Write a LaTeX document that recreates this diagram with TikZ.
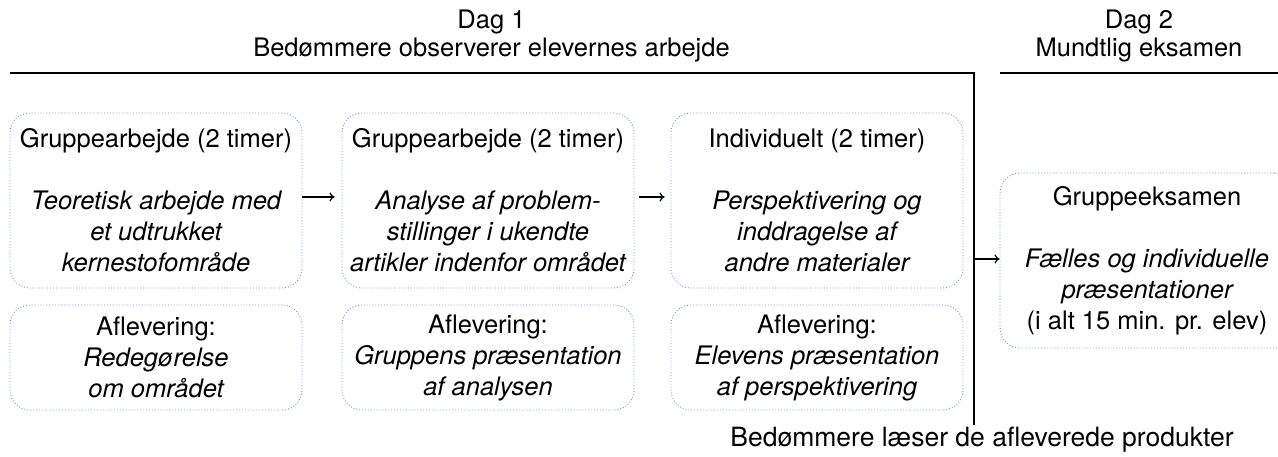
\documentclass[tikz,border=0pt]{standalone}
\usepackage{fontspec}
\setmainfont{TeX Gyre Heros}
\usetikzlibrary{arrows.meta}
\definecolor{boxblue}{HTML}{6F95C8}
\tikzset{
  stepbox/.style={draw=boxblue, line width=0.9pt, dotted, rounded corners=20pt,
    minimum width=292pt, align=center, inner sep=0pt,
    font=\fontsize{25.5}{31}\selectfont},
  topbox/.style={stepbox, minimum height=175pt},
  lowbox/.style={stepbox, minimum height=105pt},
  head/.style={align=center, font=\fontsize{25.5}{28}\selectfont},
  conn/.style={line width=1.5pt, -{To[length=5pt,width=9pt,line width=1.2pt]}},
  rule/.style={line width=1.8pt}
}
\begin{document}
\begin{tikzpicture}[x=1pt,y=-1pt]
\useasboundingbox (0,0) rectangle (1278,457);
% headings
\node[head] (d1) at (491.5,36) {Dag 1\\Bedømmere observerer elevernes arbejde};
\node[head] (d2) at (1139,36) {Dag 2\\Mundtlig eksamen};
\node[head, font=\fontsize{26.5}{28}\selectfont] (bl) at (982,440) {Bedømmere læser de afleverede produkter};
% rules
\coordinate (r1a) at (10,73);
\coordinate (r1b) at (974,73);
\coordinate (r1c) at (974,425);
\coordinate (vj) at (974,259);
\coordinate (r2a) at (1000,73);
\coordinate (r2b) at (1278,73);
\draw[rule] (r1a) -- (r1b) -- (r1c);
\draw[rule] (r2a) -- (r2b);
% top boxes
\node[topbox] (b1) at (156,200.5) {Gruppearbejde (2 timer)\\[31pt]\itshape Teoretisk arbejde med\\\itshape et udtrukket\\\itshape kernestofområde};
\node[topbox] (b2) at (488,200.5) {Gruppearbejde (2 timer)\\[31pt]\itshape Analyse af problem-\\\itshape stillinger i ukendte\\\itshape artikler indenfor området};
\node[topbox] (b3) at (817,200.5) {Individuelt (2 timer)\\[31pt]\itshape Perspektivering og\\\itshape inddragelse af\\\itshape andre materialer};
% lower boxes
\node[lowbox] (a1) at (156,357.5) {Aflevering:\\\itshape Redegørelse\\\itshape om området};
\node[lowbox] (a2) at (488,357.5) {Aflevering:\\\itshape Gruppens præsentation\\\itshape af analysen};
\node[lowbox] (a3) at (817,357.5) {Aflevering:\\\itshape Elevens præsentation\\\itshape af perspektivering};
% exam box
\node[topbox, minimum width=294pt] (ex) at (1147,260.5) {Gruppeeksamen\\[31pt]\itshape Fælles og individuelle\\\itshape præsentationer\\(i alt 15 min. pr. elev)};
% arrows
\draw[conn, shorten >=7pt] (b1.east |- 0,197) -- (b2.west |- 0,197);
\draw[conn, shorten <=5pt, shorten >=6pt] (b2.east |- 0,197) -- (b3.west |- 0,197);
\draw[conn] (vj) -- (ex.west |- vj);
\end{tikzpicture}
\end{document}
